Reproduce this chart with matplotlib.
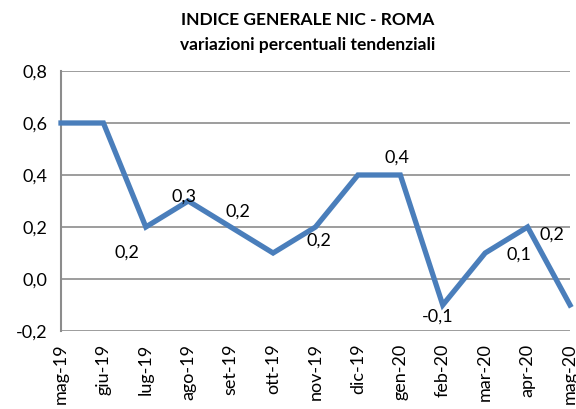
import numpy as np
import matplotlib
matplotlib.use("Agg")
from matplotlib import pyplot as plt

months = ["mag-19", "giu-19", "lug-19", "ago-19", "set-19", "ott-19", "nov-19",
          "dic-19", "gen-20", "feb-20", "mar-20", "apr-20", "mag-20"]
values = [0.6, 0.6, 0.2, 0.3, 0.2, 0.1, 0.2, 0.4, 0.4, -0.1, 0.1, 0.2, -0.1]
yticks = [-0.2, 0.0, 0.2, 0.4, 0.6, 0.8]

# data labels shown in the original: (index, offset in pixels)
label_idx = [2, 3, 4, 6, 8, 9, 10, 11]
label_off = [(-19, -26), (-4, 4), (7, 15), (3, -14), (-3, 17), (-5, -12), (34, -2), (24, -8)]

plt.rcParams.update({"font.family": ["Lato", "DejaVu Sans"], "font.size": 13})
fig = plt.figure(figsize=(5.76, 4.09), dpi=100)
ax = fig.add_axes([61/576, 1-331/409, (570-61)/576, (331-71)/409])

x = np.arange(len(months))
ax.plot(x, values, color="#4A7EBB", lw=3.8, solid_joinstyle="miter", clip_on=False, zorder=3)

for i, (dx, dy) in zip(label_idx, label_off):
    ax.annotate(("%.1f" % values[i]).replace(".", ","), (x[i], values[i]),
                xytext=(dx*0.72, dy*0.72), textcoords="offset points",
                ha="center", va="center", fontsize=13, zorder=4)

ax.set_xlim(0, len(months)-1)
ax.set_ylim(-0.2, 0.8)
ax.set_yticks(yticks)
ax.set_yticklabels([("%.1f" % v).replace(".", ",") for v in yticks])
ax.set_xticks(x)
ax.set_xticklabels(months, rotation=90)
ax.tick_params(length=0, pad=9)
ax.tick_params(axis="y", pad=10)
ax.grid(axis="y", color="#8c8c8c", lw=1.2)
for s in ["top", "right", "bottom"]:
    ax.spines[s].set_visible(False)
ax.spines["left"].set_color("#8c8c8c")
ax.spines["left"].set_linewidth(1.5)

fig.text(0.535, 0.94, "INDICE GENERALE NIC - ROMA", ha="center", fontsize=12.5, fontweight="bold")
fig.text(0.535, 0.878, "variazioni percentuali tendenziali", ha="center", fontsize=12.5, fontweight="bold")

fig.savefig("out.png", dpi=100)
